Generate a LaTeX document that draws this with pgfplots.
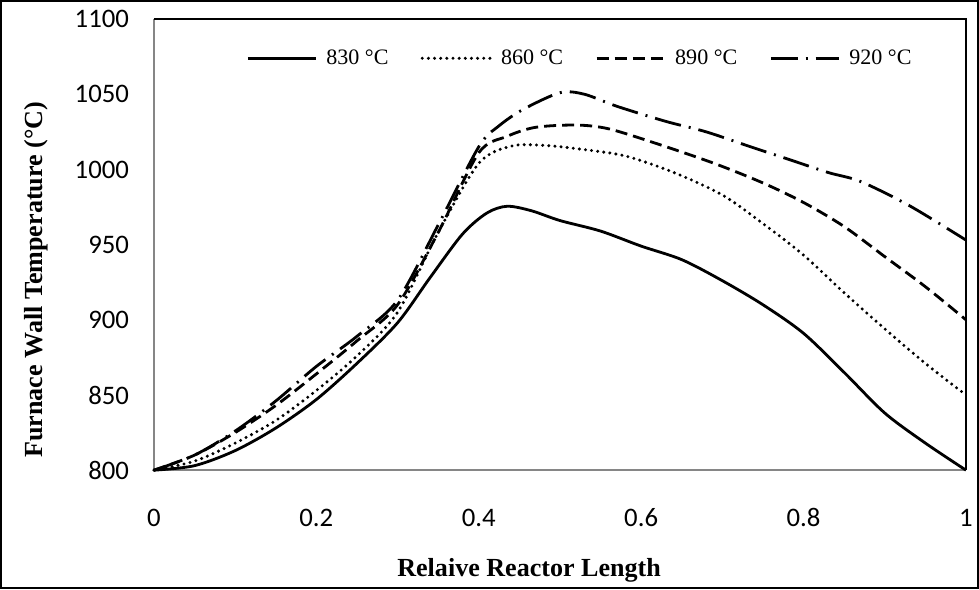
\documentclass[border=0pt]{standalone}
\usepackage{fontspec}
\setmainfont{Liberation Serif}
\newfontfamily\calibri{Carlito}
\usepackage{pgfplots}
\pgfplotsset{compat=1.18}

\begin{document}
\begin{tikzpicture}
\begin{axis}[
  name=ax,
  scale only axis,
  width=607.5pt, height=337.5pt,
  xmin=0, xmax=1, ymin=800, ymax=1100,
  xtick={0,0.2,0.4,0.6,0.8,1},
  ytick={800,850,...,1100},
  xticklabels={0,0.2,0.4,0.6,0.8,1},
  /pgf/number format/1000 sep={},
  /pgf/number format/assume math mode=true,
  tick label style={font=\calibri\fontsize{20}{22}\selectfont, inner sep=0pt},
  xticklabel style={anchor=base, yshift=-42pt},
  yticklabel style={anchor=east, xshift=-18.5pt},
  major tick length=0pt,
  axis line style={draw=none},
  clip=false,
  xlabel={\bfseries Relaive Reactor Length},
  ylabel={\bfseries Furnace Wall Temperature (°C)},
  label style={font=\fontsize{19.5}{22}\selectfont},
  xlabel style={at={(axis description cs:0.462,-0.222)}, anchor=center},
  ylabel style={at={(axis description cs:-0.1444,0.422)}, anchor=center},
  legend columns=4,
  legend style={draw=none, fill=none, at={(axis description cs:0.1136,0.913)}, anchor=west,
    font=\fontsize{16.5}{18}\selectfont, inner sep=0pt, nodes={inner sep=0pt},
    /tikz/every odd column/.append style={column sep=6.7pt},
    /tikz/every even column/.append style={column sep=24pt}},
  legend image code/.code={\draw[#1] (0pt,0pt) -- (51pt,0pt);},
]
\draw[color=gray!95, line width=1.5pt] (rel axis cs:0,1) -- (rel axis cs:0,0) -- (rel axis cs:1,0);
\draw[black, line width=0.9pt] (rel axis cs:0,1) -- (rel axis cs:1,1) -- (rel axis cs:1,0);

\addplot[black, line width=2.1pt, smooth, tension=0.5] coordinates {
(0,800) (0.05,803) (0.1,813) (0.15,828) (0.2,847) (0.25,871) (0.3,898) (0.34,928)
(0.38,957) (0.41,971) (0.435,975.5) (0.465,972.5) (0.5,966) (0.55,959) (0.6,949)
(0.65,940) (0.7,926) (0.75,910) (0.8,891) (0.85,865) (0.9,838) (0.95,818) (1,800)};
\addlegendentry{830 °C}

\addplot[black, line width=2.5pt, line cap=round, dash pattern=on 0pt off 4.6pt, smooth, tension=0.5] coordinates {
(0,800) (0.05,806) (0.1,818) (0.15,833) (0.2,853) (0.25,876) (0.3,905) (0.35,958)
(0.4,1004) (0.44,1015.5) (0.48,1016) (0.525,1013.5) (0.58,1009) (0.64,998)
(0.7,983) (0.75,964) (0.8,943) (0.85,918) (0.9,894) (0.95,871) (1,850)};
\addlegendentry{860 °C}

\addplot[black, line width=2.1pt, dash pattern=on 9pt off 4.5pt, smooth, tension=0.5] coordinates {
(0,800) (0.05,810) (0.1,825) (0.15,843) (0.2,864) (0.25,886) (0.3,910) (0.35,958)
(0.4,1011) (0.435,1022) (0.47,1028) (0.52,1029.5) (0.56,1027) (0.62,1017)
(0.69,1004) (0.75,991) (0.8,978) (0.85,962) (0.9,942) (0.95,922) (1,900)};
\addlegendentry{890 °C}

\addplot[black, line width=2.1pt, dash pattern=on 20pt off 6pt on 1.5pt off 6pt, smooth, tension=0.5] coordinates {
(0,800) (0.05,810) (0.1,826) (0.15,846) (0.2,869) (0.25,889) (0.3,913) (0.35,963)
(0.4,1015) (0.425,1029) (0.455,1040) (0.5,1051) (0.53,1050) (0.57,1042) (0.63,1032)
(0.68,1025) (0.735,1015) (0.78,1007) (0.83,998) (0.87,992) (0.93,976) (1,953)};
\addlegendentry{920 °C}
\end{axis}
\draw[line width=1.5pt] ([xshift=-114.4pt,yshift=-88.3pt]ax.south west) rectangle ([xshift=9pt,yshift=13.5pt]ax.north east);
\end{tikzpicture}
\end{document}
